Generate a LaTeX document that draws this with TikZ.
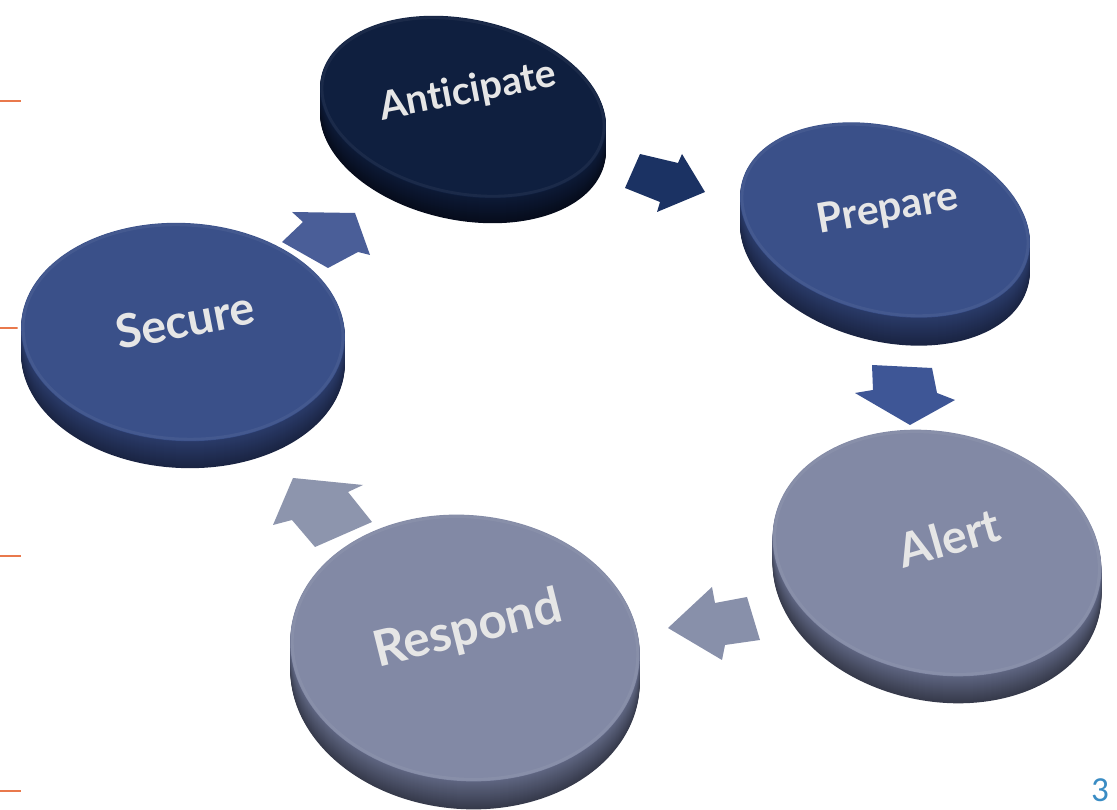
\documentclass[tikz,border=0pt]{standalone}
\usepackage{fontspec}
\setmainfont{Lato}[Ligatures={CommonOff}]
\newfontfamily\numfont{Carlito}
\definecolor{tickorange}{HTML}{E9794C}
\definecolor{pagenum}{HTML}{3A8CC4}
\definecolor{labelgrey}{HTML}{E6E6E6}
\definecolor{antTop}{HTML}{0F1F3F}
\definecolor{antSide}{HTML}{0D1A36}
\definecolor{antDark}{HTML}{060C1C}
\definecolor{midTop}{HTML}{3A5089}
\definecolor{midSide}{HTML}{2A3B69}
\definecolor{midDark}{HTML}{1A2443}
\definecolor{greyTop}{HTML}{8289A5}
\definecolor{greySide}{HTML}{5F6682}
\definecolor{greyDark}{HTML}{363A4B}
\definecolor{arrA}{HTML}{1B3263}
\definecolor{arrB}{HTML}{3E5696}
\definecolor{arrC}{HTML}{4A5E98}
\definecolor{arrD}{HTML}{8890AA}
\definecolor{arrE}{HTML}{8D95AD}
% #1 cx, #2 cy, #3 a, #4 b, #5 rot, #6 thickness, #7 top, #8 side, #9 dark
\newcommand\drawdisc[9]{%
  \draw[white,line width=4pt,shift={(#1,#2+#6)},rotate=#5] (0,0) ellipse[x radius=#3,y radius=#4];
  \draw[white,line width=4pt,shift={(#1,#2)},rotate=#5] (0,0) ellipse[x radius=#3,y radius=#4];
  \foreach \k in {#6,...,1}{%
    \pgfmathsetmacro\pc{100*(1-\k/#6)}%
    \fill[#8!\pc!#9,shift={(#1,#2+\k)},rotate=#5] (0,0) ellipse[x radius=#3,y radius=#4];
  }%
  \fill[#7,shift={(#1,#2)},rotate=#5] (0,0) ellipse[x radius=#3,y radius=#4];
  \draw[#7!85!white,opacity=0.35,line width=1.6pt,shift={(#1,#2)},rotate=#5] (0,0) ellipse[x radius=#3-2,y radius=#4-2];
}
\begin{document}
\begin{tikzpicture}[x=0.02cm,y=-0.02cm,
  orangetick/.style={draw=tickorange,line width=1.2pt},
  blockarrow/.style={draw=none},
  disclabel/.style={text=labelgrey,font=\bfseries,inner sep=0pt}]
\fill[white] (0,0) rectangle (1117,810);
\useasboundingbox (0,0) rectangle (1117,810);
% orange ticks
\foreach \t/\yy in {t1/101,t2/328,t3/556,t4/791}{
  \coordinate (\t a) at (0,\yy);
  \coordinate (\t b) at (21,\yy);
  \draw[orangetick] (\t a) -- (\t b);
}
% block arrows
\fill[arrA,blockarrow] (640,154) -- (678,163) -- (682,154) -- (705,192) -- (657,212) -- (660,202) -- (625,188) -- cycle;
\fill[arrB,blockarrow] (872,365) -- (932,368) -- (937,393) -- (955,400) -- (910,425) -- (855,393) -- (873,390) -- cycle;
\fill[arrC,blockarrow] (282,242) -- (303,222) -- (292,212) -- (355,213) -- (370,255) -- (358,252) -- (328,268) -- cycle;
\fill[arrD,blockarrow] (668,628) -- (712,587) -- (715,603) -- (747,597) -- (760,640) -- (725,645) -- (722,660) -- cycle;
\fill[arrE,blockarrow] (293,478) -- (363,485) -- (348,492) -- (372,522) -- (315,547) -- (292,520) -- (273,525) -- cycle;
% discs
\drawdisc{463}{107}{145}{88}{-12}{25}{antTop}{antSide}{antDark}
\drawdisc{885}{220}{148}{93}{-15}{28}{midTop}{midSide}{midDark}
\drawdisc{183}{332}{162}{109}{-3}{27}{midTop}{midSide}{midDark}
\drawdisc{937}{553}{166}{121}{-12}{27}{greyTop}{greySide}{greyDark}
\drawdisc{465}{648}{175}{133}{-5}{28}{greyTop}{greySide}{greyDark}
% labels
\node[disclabel,rotate=11] (ant) at (468,92) {\resizebox{102pt}{!}{Anticipate}};
\node[disclabel,rotate=10] (pre) at (888,210) {\resizebox{81pt}{!}{Prepare}};
\node[disclabel,rotate=11] (sec) at (185,320) {\resizebox{80pt}{!}{Secure}};
\node[disclabel,rotate=16] (ale) at (949,538) {\resizebox{59pt}{!}{Alert}};
\node[disclabel,rotate=14] (res) at (468,630) {\resizebox{109pt}{!}{Respond}};
% page number
\node[text=pagenum,font=\numfont\fontsize{20}{24}\selectfont,inner sep=0pt] (pg) at (1100,790) {3};
\end{tikzpicture}
\end{document}
